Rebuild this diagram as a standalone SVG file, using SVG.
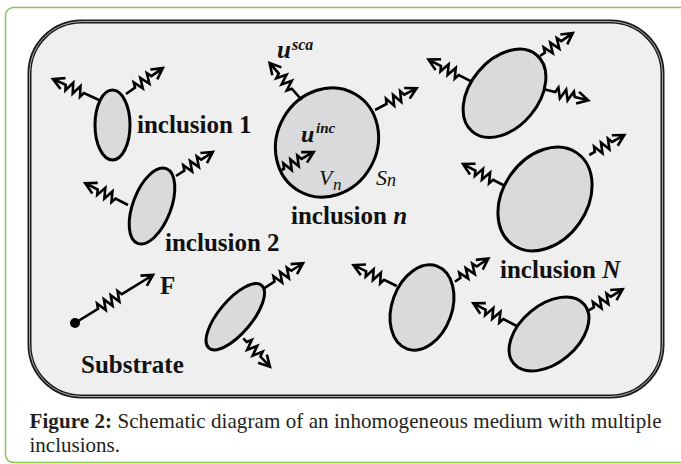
<svg xmlns="http://www.w3.org/2000/svg" width="681" height="464" viewBox="0 0 681 464">
<defs>
<style>
.frame{fill:#ffffff;stroke:#8cc152;stroke-width:1.5}
.sub{fill:#efefef;stroke:#1a1a1a;stroke-width:4}
.subgap{fill:none;stroke:#fff;stroke-width:0.8;opacity:0.8}
.inc{fill:#d9dadc;stroke:#000;stroke-width:3}
.wave{fill:none;stroke:#000;stroke-width:2.6;stroke-linejoin:miter;stroke-linecap:butt}
.lbl{font-family:"Liberation Serif","Times New Roman",serif;font-size:25px;font-weight:bold;fill:#111}
.math{font-family:"Liberation Serif","Times New Roman",serif;font-style:italic;fill:#111}
.cap{font-family:"Liberation Serif","Times New Roman",serif;font-size:21px;fill:#231f20}
</style>
</defs>
<rect class="frame" x="5.5" y="7.5" width="700" height="455" rx="8"/>
<g id="substrate">
<rect class="sub" x="29.5" y="21.5" width="633" height="375" rx="52"/>
<rect class="subgap" x="29.5" y="21.5" width="633" height="375" rx="52"/>
<text class="lbl" x="81" y="373" font-size="24">Substrate</text>
</g>
<g id="inclusion-1">
<ellipse class="inc" cx="112.5" cy="125" rx="17.5" ry="35"/>
<text class="lbl" x="137" y="133">inclusion 1</text>
</g>
<g id="inclusion-2">
<ellipse class="inc" cx="152" cy="206" rx="19" ry="40" transform="rotate(21 152 206)"/>
<text class="lbl" x="165" y="251">inclusion 2</text>
</g>
<g id="inclusion-n">
<ellipse class="inc" cx="327" cy="142.5" rx="50" ry="56" transform="rotate(30 327 142.5)"/>
<text class="math" x="277" y="58" font-size="25" font-weight="bold">u</text>
<text class="math" x="292" y="50" font-size="16" font-weight="bold">sca</text>
<text class="math" x="301" y="142" font-size="24" font-weight="bold">u</text>
<text class="math" x="316" y="133" font-size="15" font-weight="bold">inc</text>
<text class="math" x="319" y="185" font-size="22">V</text>
<text class="math" x="333" y="190" font-size="17">n</text>
<text class="math" x="376" y="185" font-size="22">S</text>
<text class="math" x="387" y="186" font-size="18">n</text>
<text class="lbl" x="291" y="224" font-size="24">inclusion <tspan font-style="italic">n</tspan></text>
</g>
<g id="inclusion-a">
<ellipse class="inc" cx="504.5" cy="93.3" rx="34" ry="50" transform="rotate(40 504.5 93.3)"/>
</g>
<g id="inclusion-N">
<ellipse class="inc" cx="545" cy="199" rx="42" ry="56" transform="rotate(35 545 199)"/>
<text class="lbl" x="500" y="278">inclusion <tspan font-style="italic">N</tspan></text>
</g>
<g id="inclusion-b">
<ellipse class="inc" cx="235.3" cy="316.7" rx="16.5" ry="41" transform="rotate(40 235.3 316.7)"/>
</g>
<g id="inclusion-c">
<ellipse class="inc" cx="422" cy="307.5" rx="30" ry="44" transform="rotate(20 422 307.5)"/>
</g>
<g id="inclusion-d">
<ellipse class="inc" cx="549" cy="334" rx="29" ry="46" transform="rotate(50 549 334)"/>
</g>
<g id="force">
<circle cx="75" cy="323" r="5" fill="#000"/>
<text class="lbl" x="160" y="294" font-size="24">F</text>
</g>
<g id="connectors">
<path class="wave" transform="translate(99,100) rotate(-155.5)" d="M0,0H16.6l2,-5l4,10l4,-10l4,10l4,-10l2,5H50.6M39.6,-6L50.6,0L39.6,6"/>
<path class="wave" transform="translate(126,94) rotate(-35.1)" d="M0,0H11l2,-5l4,10l4,-10l4,10l4,-10l2,5H45M34,-6L45,0L34,6"/>
<path class="wave" transform="translate(128,205) rotate(-153)" d="M0,0H14l2,-5l4,10l4,-10l4,10l4,-10l2,5H48M37,-6L48,0L37,6"/>
<path class="wave" transform="translate(176,176) rotate(-33)" d="M0,0H10l2,-5l4,10l4,-10l4,10l4,-10l2,5H44M33,-6L44,0L33,6"/>
<path class="wave" transform="translate(301.7,100) rotate(-130.9)" d="M0,0H15l2,-5l4,10l4,-10l4,10l4,-10l2,5H49M38,-6L49,0L38,6"/>
<path class="wave" transform="translate(375,110) rotate(-27.6)" d="M0,0H13l2,-5l4,10l4,-10l4,10l4,-10l2,5H47M36,-6L47,0L36,6"/>
<path class="wave" transform="translate(281.7,170) rotate(-29.4)" d="M0,0H2.7l2,-5l4,10l4,-10l4,10l4,-10l2,5H36.7M25.7,-6L36.7,0L25.7,6"/>
<path class="wave" transform="translate(471.7,81.7) rotate(-152.9)" d="M0,0H14.5l2,-5l4,10l4,-10l4,10l4,-10l2,5H48.5M37.5,-6L48.5,0L37.5,6"/>
<path class="wave" transform="translate(540,56) rotate(-34.9)" d="M0,0H6l2,-5l4,10l4,-10l4,10l4,-10l2,5H40M29,-6L40,0L29,6"/>
<path class="wave" transform="translate(544,89.3) rotate(14)" d="M0,0H11.6l2,-5l4,10l4,-10l4,10l4,-10l2,5H45.6M34.6,-6L45.6,0L34.6,6"/>
<path class="wave" transform="translate(505,186) rotate(-152.4)" d="M0,0H13.4l2,-5l4,10l4,-10l4,10l4,-10l2,5H47.4M36.4,-6L47.4,0L36.4,6"/>
<path class="wave" transform="translate(589.3,155) rotate(-29.7)" d="M0,0H6.3l2,-5l4,10l4,-10l4,10l4,-10l2,5H40.3M29.3,-6L40.3,0L29.3,6"/>
<path class="wave" transform="translate(264,288.3) rotate(-32.7)" d="M0,0H12.4l2,-5l4,10l4,-10l4,10l4,-10l2,5H46.4M35.4,-6L46.4,0L35.4,6"/>
<path class="wave" transform="translate(243.3,338.3) rotate(46.8)" d="M0,0H5l2,-5l4,10l4,-10l4,10l4,-10l2,5H39M28,-6L39,0L28,6"/>
<path class="wave" transform="translate(396.7,286) rotate(-154.2)" d="M0,0H14l2,-5l4,10l4,-10l4,10l4,-10l2,5H48M37,-6L48,0L37,6"/>
<path class="wave" transform="translate(455,281.7) rotate(-34.9)" d="M0,0H6.6l2,-5l4,10l4,-10l4,10l4,-10l2,5H40.6M29.6,-6L40.6,0L29.6,6"/>
<path class="wave" transform="translate(516.7,326) rotate(-152.4)" d="M0,0H15l2,-5l4,10l4,-10l4,10l4,-10l2,5H49M38,-6L49,0L38,6"/>
<path class="wave" transform="translate(586.7,311.7) rotate(-31.9)" d="M0,0H8.4l2,-5l4,10l4,-10l4,10l4,-10l2,5H42.4M31.4,-6L42.4,0L31.4,6"/>
<path class="wave" transform="translate(75,323) rotate(-31.6)" d="M0,0H27l2,-5l4,10l4,-10l4,10l4,-10l4,10l4,-10l2,5H91.6M80.6,-6L91.6,0L80.6,6"/>
</g>
<text class="cap" x="29.5" y="428" textLength="632" lengthAdjust="spacing"><tspan font-weight="bold">Figure 2:</tspan> Schematic diagram of an inhomogeneous medium with multiple</text>
<text class="cap" x="29.5" y="452">inclusions.</text>
</svg>
